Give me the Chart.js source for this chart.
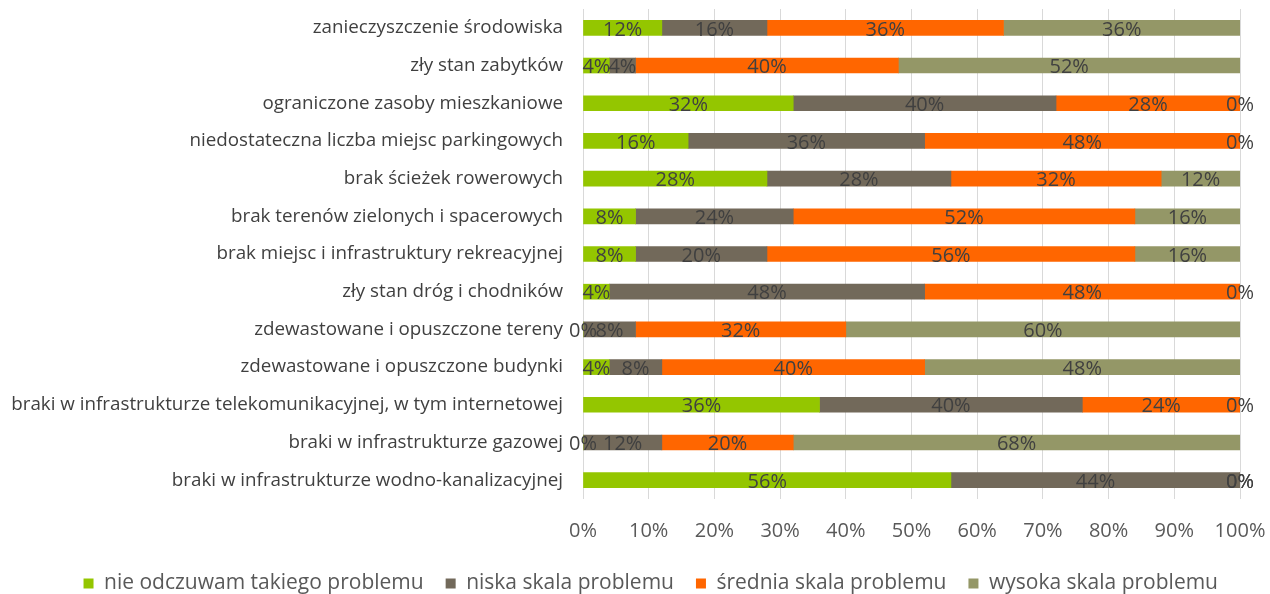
<!DOCTYPE html>
<html lang="pl">
<head>
    <meta charset="UTF-8">
    <script src="https://cdn.jsdelivr.net/npm/chart.js"></script>
    <title>Skala problemów</title>
    <style>
        body { margin: 0; background: #fff; }
        #box { width: 1270px; height: 594px; }
    </style>
</head>
<body>
    <div id="box">
        <canvas id="wykres"></canvas>
    </div>
    <script>
        const kategorie = [
          "zanieczyszczenie środowiska",
          "zły stan zabytków",
          "ograniczone zasoby mieszkaniowe",
          "niedostateczna liczba miejsc parkingowych",
          "brak ścieżek rowerowych",
          "brak terenów zielonych i spacerowych",
          "brak miejsc i infrastruktury rekreacyjnej",
          "zły stan dróg i chodników",
          "zdewastowane i opuszczone tereny",
          "zdewastowane i opuszczone budynki",
          "braki w infrastrukturze telekomunikacyjnej, w tym internetowej",
          "braki w infrastrukturze gazowej",
          "braki w infrastrukturze wodno-kanalizacyjnej"
        ]

        const nieOdczuwam = [12, 4, 32, 16, 28, 8, 8, 4, 0, 4, 36, 0, 56]
        const niska       = [16, 4, 40, 36, 28, 24, 20, 48, 8, 8, 40, 12, 44]
        const srednia     = [36, 40, 28, 48, 32, 52, 56, 48, 32, 40, 24, 20, 0]
        const wysoka      = [36, 52, 0, 0, 12, 16, 16, 0, 60, 48, 0, 68, 0]

        const tickiX = [0, 10, 20, 30, 40, 50, 60, 70, 80, 90, 100]

        const czcionka = "'Open Sans', sans-serif"

        // podpisy wartosci na srodku kazdego odcinka
        const etykiety = {
          id: 'etykiety',
          afterDatasetsDraw(chart) {
            const c = chart.ctx
            c.save()
            c.font = "20px " + czcionka
            c.fillStyle = '#404040'
            c.textAlign = 'center'
            c.textBaseline = 'middle'
            chart.data.datasets.forEach((ds, i) => {
              const meta = chart.getDatasetMeta(i)
              meta.data.forEach((bar, j) => {
                const p = bar.getProps(['x', 'y', 'base'], true)
                c.fillText(ds.data[j] + '%', (p.x + p.base) / 2, p.y + 2)
              })
            })
            c.restore()
          }
        }

        const ctx = document.getElementById('wykres')

        new Chart(ctx, {
          type: 'bar',
          data: {
            labels: kategorie,
            datasets: [
              { label: 'nie odczuwam takiego problemu', data: nieOdczuwam, backgroundColor: '#94C600' },
              { label: 'niska skala problemu', data: niska, backgroundColor: '#72695A' },
              { label: 'średnia skala problemu', data: srednia, backgroundColor: '#FF6600' },
              { label: 'wysoka skala problemu', data: wysoka, backgroundColor: '#949767' }
            ]
          },
          options: {
            indexAxis: 'y',
            responsive: true,
            maintainAspectRatio: false,
            animation: false,
            barThickness: 15,
            // ujemny dolny margines - legenda ma siedziec nizej
            layout: { padding: { left: 10, right: 30, top: 9, bottom: -10 } },
            scales: {
              x: {
                stacked: true,
                min: 0,
                max: 100,
                afterBuildTicks: (axis) => { axis.ticks = tickiX.map(v => ({ value: v })) },
                afterFit: (scale) => {
                  scale.paddingLeft = 0
                  scale.paddingRight = 0
                  scale.height = 52
                },
                ticks: {
                  callback: v => v + '%',
                  color: '#595959',
                  font: { family: czcionka, size: 20 },
                  padding: 20
                },
                grid: { color: '#D9D9D9', drawTicks: false },
                border: { display: false }
              },
              y: {
                stacked: true,
                afterFit: (scale) => {
                  scale.width = 573
                  scale.paddingTop = 0
                  scale.paddingBottom = 0
                },
                ticks: {
                  color: '#404040',
                  font: { family: czcionka, size: 18.8 },
                  padding: 12
                },
                grid: { display: false },
                border: { display: false }
              }
            },
            plugins: {
              legend: {
                position: 'bottom',
                align: 'end',
                labels: {
                  boxWidth: 10,
                  boxHeight: 10,
                  padding: 22,
                  color: '#595959',
                  font: { family: czcionka, size: 21 }
                }
              },
              tooltip: { enabled: false }
            }
          },
          plugins: [etykiety]
        })
    </script>
</body>
</html>
